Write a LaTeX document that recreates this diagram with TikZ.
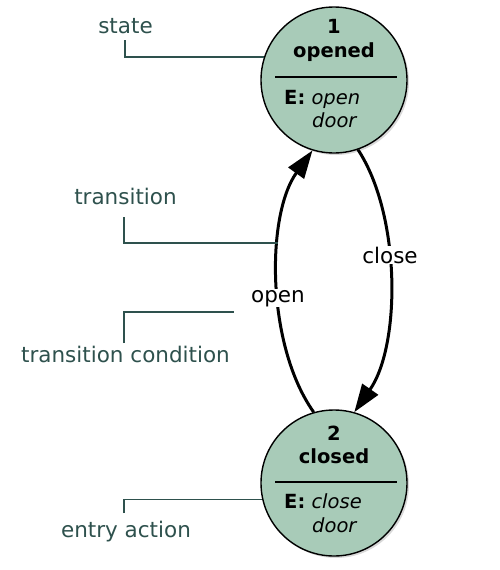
\documentclass[tikz,border=0pt]{standalone}
\usepackage{fontspec}
\setmainfont{DejaVu Sans}
\usetikzlibrary{shadows,arrows.meta}
\definecolor{statefill}{HTML}{A8CBB8}
\definecolor{annot}{HTML}{2E514D}
\tikzset{
  statecircle/.style={circle, draw=black, line width=1.4pt, fill=statefill, minimum size=146pt, inner sep=0pt,
    drop shadow={opacity=0.3, shadow xshift=2pt, shadow yshift=-2pt}},
  stxt/.style={font=\fontsize{19.5}{23}\selectfont, inner sep=0pt, anchor=base},
  stxtw/.style={font=\fontsize{19.5}{23}\selectfont, inner sep=0pt, anchor=base west},
  ann/.style={draw=annot, line width=1.6pt},
  anntxt/.style={font=\fontsize{21.5}{25}\selectfont, text=annot, inner sep=0pt, anchor=base},
  trans/.style={line width=3pt, -{Triangle[length=28pt, width=19pt]}},
  tlabel/.style={font=\fontsize{21.5}{25}\selectfont, fill=white, inner sep=1pt, anchor=base},
}
\begin{document}
\begin{tikzpicture}[x=1pt,y=-1pt]
\useasboundingbox (0,0) rectangle (500,570);
% states
\node[statecircle] (s1) at (334,80) {};
\node[statecircle] (s2) at (334,483) {};
% state 1 text
\node[stxt] (n1) at (334,33) {\textbf{1}};
\node[stxt] (o1) at (334,57) {\textbf{opened}};
\draw[line width=1.3pt] (275,77) -- (397,77);
\node[stxtw] (e1) at (284,104) {\textbf{E:} \textit{open}};
\node[stxtw] (d1) at (312,127) {\textit{door}};
% state 2 text
\node[stxt] (n2) at (334,440) {\textbf{2}};
\node[stxt] (c2) at (334,463) {\textbf{closed}};
\draw[line width=1.3pt] (275,482) -- (397,482);
\node[stxtw] (e2) at (284,508) {\textbf{E:} \textit{close}};
\node[stxtw] (d2) at (312,532) {\textit{door}};
% transitions
\draw[trans] (s2.106) .. controls (266,345) and (266,215) .. (s1.253);
\draw[trans] (s1.289) .. controls (401,215) and (401,345) .. (s2.74);
\node[tlabel] (lopen) at (278,302) {open};
\node[tlabel] (lclose) at (390,263) {close};
% annotations
\node[anntxt] (astate) at (125.5,33) {state};
\node[anntxt] (atrans) at (125.5,204) {transition};
\node[anntxt] (acond) at (125.5,362) {transition condition};
\node[anntxt] (aentry) at (126,537) {entry action};
\coordinate (tp) at (278,243);
\coordinate (tc) at (234,312);
\draw[ann] (125,40) |- (s1.162);
\draw[ann] (124,217) |- (tp);
\draw[ann] (124,343) |- (tc);
\draw[ann] (124,513) |- (s2.193);
\end{tikzpicture}
\end{document}
